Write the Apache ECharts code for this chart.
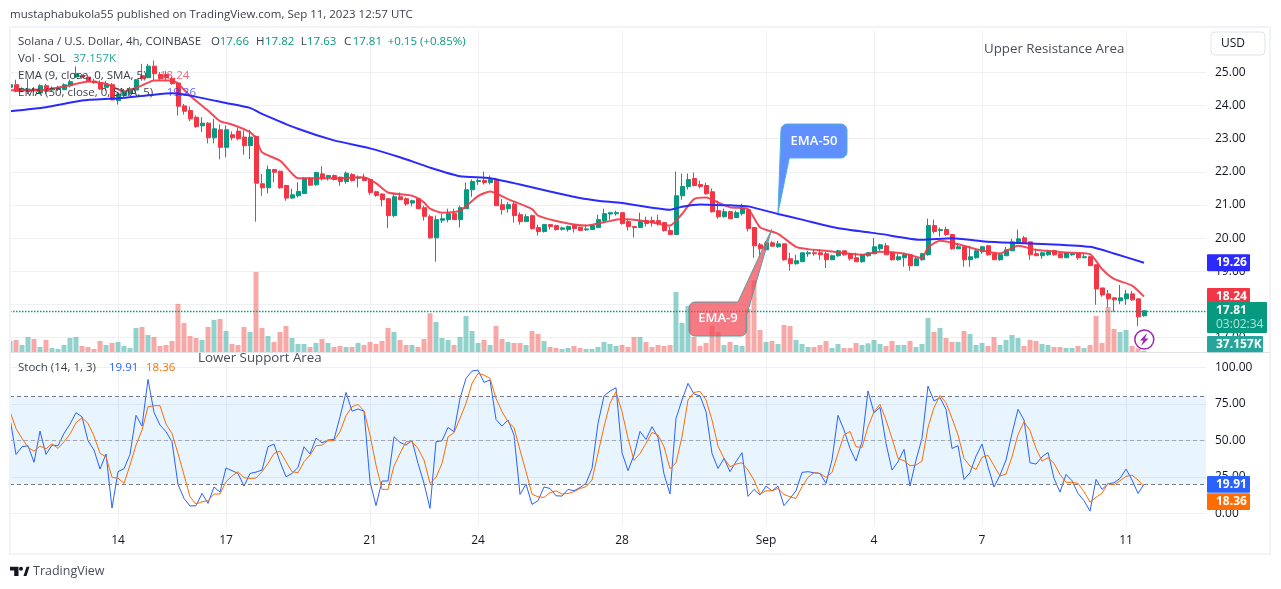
<!DOCTYPE html>
<html>
<head>
<meta charset="utf-8">
<title>SOLUSD</title>
<style>
  html, body { margin: 0; padding: 0; background: #fff; }
  #chart { width: 1281px; height: 589px; }
</style>
<script src="https://cdn.jsdelivr.net/npm/echarts@6/dist/echarts.min.js"></script>
</head>
<body>
<div id="chart"></div>
<script>
// candles are 4h, one row = 10 candles
var opens = [
  24.55,24.63,24.45,24.43,24.50,24.38,24.60,24.47,24.49,24.48,
  24.60,24.86,24.91,24.86,24.74,24.68,24.55,24.63,24.15,24.30,
  24.37,24.47,24.90,24.84,25.19,24.94,24.94,24.81,24.68,23.99,
  23.85,23.65,23.39,23.47,23.03,23.27,22.74,23.12,23.23,23.05,
  22.79,23.07,21.64,21.52,22.07,22.02,21.59,21.21,21.28,21.35,
  21.81,21.61,21.94,21.84,21.89,21.84,21.71,21.92,21.81,21.82,
  21.77,21.40,21.33,21.19,20.68,21.25,21.19,21.06,21.19,20.92,
  20.65,20.01,20.54,20.56,20.74,20.56,20.89,21.46,21.71,21.74,
  21.68,21.77,21.01,20.89,21.03,20.71,20.50,20.68,20.32,20.20,
  20.41,20.38,20.27,20.26,20.38,20.33,20.25,20.26,20.32,20.53,
  20.73,20.74,20.77,20.50,20.35,20.32,20.53,20.53,20.53,20.47,
  20.23,20.11,21.28,21.56,21.80,21.62,21.59,21.40,20.83,20.65,
  20.80,20.62,20.74,20.86,20.32,19.80,19.65,19.86,19.74,19.83,
  19.38,19.23,19.29,19.53,19.56,19.56,19.53,19.35,19.47,19.62,
  19.53,19.41,19.29,19.47,19.53,19.68,19.77,19.56,19.35,19.41,
  19.50,19.17,19.35,19.50,20.38,20.23,20.26,20.11,19.68,19.74,
  19.35,19.41,19.59,19.77,19.53,19.35,19.47,19.62,19.86,20.01,
  19.89,19.53,19.47,19.50,19.62,19.53,19.41,19.50,19.53,19.41,
  19.44,19.20,18.50,18.32,18.20,18.11,18.17,18.32,18.17,17.66
];
var closes = [
  24.63,24.43,24.50,24.50,24.45,24.60,24.43,24.53,24.55,24.63,
  24.72,24.96,24.86,24.74,24.70,24.50,24.65,24.17,24.35,24.42,
  24.50,24.78,24.81,25.19,24.96,24.81,24.84,24.66,23.98,23.83,
  23.60,23.37,23.47,23.03,23.30,22.74,23.27,23.03,23.00,22.79,
  23.05,21.66,21.52,22.07,21.99,21.52,21.21,21.31,21.41,21.81,
  21.60,21.98,21.81,21.89,21.77,21.71,21.96,21.74,21.84,21.74,
  21.38,21.29,21.16,20.68,21.25,21.16,21.03,21.13,20.89,20.66,
  20.01,20.56,20.59,20.74,20.56,20.92,21.46,21.71,21.74,21.68,
  21.77,20.98,20.86,21.01,20.68,20.50,20.65,20.29,20.20,20.41,
  20.35,20.26,20.31,20.35,20.29,20.23,20.28,20.38,20.56,20.74,
  20.77,20.77,20.44,20.35,20.32,20.50,20.44,20.47,20.44,20.23,
  20.11,21.28,21.56,21.77,21.59,21.56,21.34,20.80,20.65,20.80,
  20.59,20.77,20.89,20.29,19.77,19.68,19.86,19.76,19.83,19.35,
  19.23,19.32,19.56,19.56,19.53,19.50,19.35,19.47,19.62,19.50,
  19.38,19.29,19.50,19.56,19.74,19.80,19.50,19.35,19.44,19.50,
  19.17,19.38,19.53,20.38,20.20,20.26,20.11,19.68,19.74,19.35,
  19.44,19.62,19.74,19.50,19.35,19.50,19.65,19.89,19.98,19.86,
  19.50,19.47,19.56,19.59,19.50,19.41,19.56,19.53,19.41,19.44,
  19.17,18.47,18.29,18.17,18.14,18.20,18.32,18.14,17.63,17.81
];
var lows = [
  24.50,24.40,24.40,24.35,24.40,24.35,24.35,24.42,24.44,24.47,
  24.55,24.84,24.81,24.71,24.65,24.47,24.45,24.17,24.03,24.25,
  24.30,24.40,24.75,24.84,24.76,24.74,24.74,24.63,23.70,23.73,
  23.53,23.33,23.20,22.86,22.86,22.38,22.44,22.95,22.95,22.52,
  22.39,20.50,21.28,21.35,21.69,21.49,21.13,21.18,21.23,21.33,
  21.57,21.58,21.74,21.74,21.74,21.58,21.64,21.71,21.53,21.72,
  21.31,21.25,20.96,20.30,20.63,21.15,20.98,20.96,20.88,20.53,
  19.98,19.29,20.46,20.48,20.55,20.32,20.89,21.25,21.61,21.62,
  21.62,20.98,20.71,20.77,20.47,20.41,20.50,20.26,20.08,20.17,
  20.26,20.23,20.23,20.20,20.17,20.23,20.23,20.26,20.32,20.47,
  20.56,20.68,20.41,20.23,20.02,20.32,20.35,20.35,20.38,20.20,
  20.11,20.11,21.16,21.47,21.56,21.50,21.31,20.77,20.59,20.62,
  20.59,20.62,20.68,20.20,19.41,19.44,19.62,19.74,19.71,19.32,
  19.02,19.20,19.29,19.44,19.47,19.35,19.10,19.35,19.44,19.47,
  19.32,19.29,19.26,19.44,19.53,19.62,19.50,19.32,19.32,19.14,
  19.02,19.17,19.32,19.47,20.14,20.05,20.07,19.65,19.68,19.14,
  19.14,19.38,19.53,19.47,19.35,19.32,19.47,19.62,19.86,19.83,
  19.35,19.47,19.38,19.47,19.47,19.41,19.41,19.47,19.35,19.41,
  19.17,17.99,18.23,17.91,17.78,18.01,17.99,18.11,17.35,17.63
];
var highs = [
  24.76,24.78,24.55,24.81,24.56,24.64,24.65,24.58,24.60,24.67,
  24.78,25.18,24.96,24.91,24.81,24.76,24.74,24.68,24.40,24.50,
  24.56,24.80,25.26,25.26,25.36,25.01,25.04,24.88,24.72,24.05,
  23.97,23.70,23.65,23.50,23.60,23.43,23.40,23.22,23.33,23.25,
  23.27,23.10,21.94,22.19,22.09,22.04,21.61,21.49,21.69,21.84,
  21.84,22.00,22.17,21.91,21.92,21.86,22.01,21.96,21.89,21.94,
  21.79,21.43,21.36,21.21,21.36,21.38,21.23,21.16,21.21,20.98,
  20.71,20.68,20.73,20.89,20.89,20.98,21.68,21.77,21.80,22.01,
  21.89,21.82,21.18,21.09,21.09,20.78,20.73,20.71,20.41,20.41,
  20.41,20.41,20.35,20.38,20.41,20.35,20.41,20.41,20.71,20.89,
  20.77,20.83,20.77,20.56,20.35,20.77,20.65,20.65,20.71,20.47,
  20.35,22.01,21.95,21.95,21.98,21.74,21.68,21.50,21.13,20.89,
  20.83,20.83,21.04,20.89,20.32,19.86,19.92,19.92,19.92,19.83,
  19.56,19.50,19.56,19.62,19.65,19.67,19.59,19.50,19.65,19.62,
  19.56,19.56,19.53,19.59,20.01,19.83,19.86,19.56,19.53,19.53,
  19.53,19.44,19.56,20.59,20.56,20.32,20.35,20.13,19.86,19.74,
  19.77,19.68,19.77,19.80,19.53,19.56,19.74,19.98,20.26,20.07,
  19.89,19.68,19.59,19.65,19.65,19.56,19.56,19.56,19.56,19.53,
  19.47,19.20,18.50,18.44,18.23,18.59,18.44,18.41,18.17,17.82
];
// volume in thousands of SOL
var volumes = [
  272,296,176,368,320,128,296,104,80,176,
  344,368,152,128,80,272,176,224,248,152,
  104,584,608,416,368,152,176,272,1160,704,
  392,344,296,608,776,800,512,200,176,608,
  488,1928,584,392,248,488,632,344,200,200,
  128,224,320,224,128,152,128,128,224,176,
  248,200,272,584,488,296,176,176,128,320,
  936,728,344,296,176,368,872,512,224,296,
  176,632,320,248,224,224,176,512,440,272,
  128,104,80,104,152,104,80,80,128,248,
  200,152,176,128,368,368,248,128,176,152,
  176,1448,704,1112,368,152,224,632,488,176,
  248,176,152,1040,1728,536,248,272,200,656,
  632,296,200,128,128,176,272,104,200,104,
  104,224,176,216,296,200,152,272,176,176,
  272,128,200,824,488,584,344,248,248,512,
  440,176,224,152,368,176,296,416,344,152,
  296,272,200,176,128,128,104,104,152,104,
  176,872,224,1088,560,488,536,152,96,37.157
];
var ema9Index = [0,6,10,13,16,19,22,24,27,28,30,33,35,37,40,41,42,45,47,48,54,59,61,63,67,69,70,72,75,78,80,83,87,88,92,96,99,102,106,110,112,114,116,118,120,123,125,128,131,133,136,142,145,149,152,153,155,158,161,165,168,171,176,180,182,184,187,189];
var ema9 = [24.46,24.48,24.61,24.73,24.66,24.43,24.61,24.76,24.76,24.66,24.30,23.85,23.53,23.43,23.20,23.00,22.59,22.34,21.95,21.81,21.81,21.84,21.66,21.38,21.28,21.08,20.89,20.77,20.83,21.27,21.41,21.18,20.88,20.68,20.48,20.38,20.48,20.58,20.51,20.38,20.73,21.18,21.23,21.08,20.93,20.88,20.33,20.13,19.74,19.67,19.62,19.50,19.59,19.54,19.40,19.72,19.92,19.82,19.67,19.54,19.77,19.65,19.57,19.52,19.07,18.77,18.57,18.24];
var ema50Index = [0,6,12,18,24,27,30,36,40,42,48,54,60,65,70,75,80,85,90,95,98,102,110,112,115,120,123,128,132,137,142,145,152,157,162,167,173,180,184,189];
var ema50 = [23.83,23.95,24.15,24.22,24.33,24.37,24.30,24.08,23.93,23.75,23.30,22.95,22.71,22.44,22.13,21.87,21.81,21.62,21.41,21.21,21.13,21.06,20.86,20.95,21.02,20.99,20.96,20.73,20.56,20.34,20.20,20.13,19.95,20.00,19.91,19.86,19.82,19.74,19.54,19.26];
var stochK = [
  65,40.3,45.6,46.3,34.9,56.3,40.3,46.7,46.3,54.7,
  61.1,68.9,66.1,49.7,43.3,30.3,40.6,3.6,28.5,30.5,
  40.3,67.1,59.7,91.7,69.1,60.4,55.9,49,19.8,10.2,
  5,5.2,13.6,6.8,18,14.5,31,29.2,27.3,18.6,
  27.3,28.2,29.6,45.6,47.4,35.3,25,27.3,31.4,45.6,
  40.6,51.5,48.3,50.2,50.6,66.1,82.8,70,71.4,70,
  21.6,5.2,22.1,22.1,52.4,48.6,46.7,49.9,34.2,20.5,
  3.4,49,49.7,58.8,55.9,78.7,92.4,97.4,98.1,89.7,
  91.3,64.3,59.7,63.9,53.6,12.9,20,6.1,8.6,18,
  17,12,11.8,16.4,15.4,17.7,20.5,30.7,61.6,80.3,
  83.7,86,41.5,29.2,39.9,56.1,50.6,59.3,52,26.9,
  13.2,65,77.6,89,81.7,80.5,69.6,41,30.7,37.6,
  28.5,35.3,41.5,11.6,16.4,12.5,18.6,15.4,18.6,5.2,
  10.2,15.4,28,28.5,27.8,27.3,20.5,36.5,67.1,57,
  44.4,35.8,49,83.8,68.9,72.5,47.9,29.6,35.3,43.8,
  18.6,36.5,51.3,87.1,76.9,79.2,71.2,44.4,46.3,23.2,
  27.8,39.2,47.4,31.9,18,26.2,36.5,54.7,71.2,63.9,
  34.6,33.7,38.7,41.7,23.9,14.5,26.6,22.3,13.6,8.6,
  1.5,23.2,16.4,20.2,20.9,23.9,30.3,22.8,13.6,19.91
];
var stochD = [
  69.6,58.1,51.3,45.1,42.6,46,44.2,47.6,44.4,49,
  54.3,62,65.5,61.6,52.9,41,38.7,24.6,24.1,20.5,
  33,46.7,57,73,73.7,73.7,61.1,54.7,41,26.2,
  11.3,6.3,7.9,8.6,13.2,13.2,21.6,25.5,28.5,24.4,
  23.9,24.1,28.5,34.2,41,42.6,35.3,28.5,27.8,35.3,
  39.9,46.3,46.7,49.7,49.7,55.9,66.8,73,74.6,70.2,
  53.6,33,16.4,16.4,32.4,41,49,49,44.4,36.5,
  20.5,24.6,34.2,52.4,55.2,65,75.3,89,95.8,94.7,
  92.4,78.7,69.6,62.7,58.8,43.3,28.5,13.2,11.3,10.9,
  14.1,15.4,13.2,13.6,14.8,17,18.2,22.8,41,59.3,
  75.3,83.3,69.6,51.3,36.2,41,47.9,55.4,53.6,45.6,
  30.5,34.6,52.4,77.6,82.8,83.5,77.6,63.9,46,37.6,
  31.9,33.7,34.6,29.6,22.8,13.2,15.4,15.4,17,12.9,
  11.3,10.2,18.2,24.6,27.8,27.3,24.6,28,41,53.6,
  56.1,45.6,45.1,59.3,69.6,74.6,63.9,51.3,37.6,36,
  32.6,33,35.8,58.8,72.5,80.7,75.7,65,53.6,37.6,
  32.3,30,38.3,39.7,32.6,25.5,26.9,38.7,54,62.7,
  56.6,44.4,35.8,38.1,34.2,26.6,21.2,21.2,20.5,14.8,
  7.7,10.9,13.8,20.5,19.6,22.3,25.3,26.1,22.8,18.36
];
var dayTicks = [18,36,60,78,102,126,144,162,186];
var dayLabels = ['14','17','21','24','28','Sep','4','7','11'];
var priceTicks = [17,18,19,20,21,22,23,24,25];
var stochTicks = [0,25,50,75,100];
var stochLevels = [80,50,20];

var FONT = 'Open Sans';
var GREEN = '#089981', RED = '#f23645', EMA50 = '#2a2aff', KBLUE = '#2962ff', DORANGE = '#ff6d00';
var GRIDCOL = '#eff0f4', TEXTCOL = '#131722', LEGENDCOL = '#3a3e49';

var chart = echarts.init(document.getElementById('chart'), null, {renderer: 'canvas'});

function pairs(xs, ys) {
  return xs.map(function(x, i) { return [x, ys[i]]; });
}

var xMax = 199.33;

var option = {
  animation: false,
  backgroundColor: '#fff',
  textStyle: {fontFamily: FONT},
  grid: [
    {left: 10, width: 1196, top: 30, height: 322.3},
    {left: 10, width: 1196, top: 354, height: 172}
  ],
  xAxis: [{
    type: 'value', gridIndex: 0, min: 0, max: xMax,
    axisLine: {show: false},
    axisTick: {show: false, customValues: dayTicks},
    axisLabel: {show: false},
    splitLine: {show: true, lineStyle: {color: GRIDCOL, width: 1}}
  }, {
    type: 'value', gridIndex: 1, min: 0, max: xMax,
    axisLine: {show: false},
    axisTick: {show: false, customValues: dayTicks},
    axisLabel: {
      show: true, margin: 9, color: TEXTCOL, fontSize: 12, fontFamily: FONT,
      customValues: dayTicks,
      formatter: function(v) { return dayLabels[dayTicks.indexOf(v)]; }
    },
    splitLine: {show: true, lineStyle: {color: GRIDCOL, width: 1}}
  }],
  yAxis: [{
    type: 'value', gridIndex: 0, position: 'right', min: 16.558, max: 26.28, scale: true,
    axisLine: {show: false},
    axisTick: {show: false, customValues: priceTicks},
    axisLabel: {
      margin: 9, color: TEXTCOL, fontSize: 12, fontFamily: FONT,
      customValues: priceTicks,
      formatter: function(v) { return v.toFixed(2); }
    },
    splitLine: {show: true, lineStyle: {color: GRIDCOL, width: 1}}
  }, {
    // volume overlay, scale only
    type: 'value', gridIndex: 0, min: 0, max: 7728, show: false,
    splitLine: {show: false}
  }, {
    type: 'value', gridIndex: 1, position: 'right', min: -8.7, max: 109.1, scale: true,
    axisLine: {show: false},
    axisTick: {show: false, customValues: stochTicks},
    axisLabel: {
      margin: 9, color: TEXTCOL, fontSize: 12, fontFamily: FONT,
      customValues: stochTicks,
      formatter: function(v) { return v.toFixed(2); }
    },
    splitLine: {show: true, lineStyle: {color: GRIDCOL, width: 1}}
  }],
  series: [{
    name: 'Vol',
    type: 'bar',
    xAxisIndex: 0, yAxisIndex: 1,
    barWidth: 5,
    clip: true,
    z: 1,
    silent: true,
    data: volumes.map(function(v, i) {
      return {
        value: [i, v],
        itemStyle: {color: closes[i] >= opens[i] ? 'rgba(38,166,154,0.5)' : 'rgba(239,83,80,0.5)'}
      };
    })
  }, {
    name: 'SOLUSD',
    type: 'candlestick',
    xAxisIndex: 0, yAxisIndex: 0,
    barWidth: 4.5,
    z: 3,
    silent: true,
    itemStyle: {color: GREEN, color0: RED, borderColor: GREEN, borderColor0: RED, borderWidth: 1},
    data: opens.map(function(o, i) { return [i, o, closes[i], lows[i], highs[i]]; }),
    markLine: {
      silent: true, symbol: 'none', animation: false,
      label: {show: false},
      lineStyle: {color: GREEN, type: [1.5, 1.5], width: 1.3},
      data: [{yAxis: closes[closes.length - 1]}]
    }
  }, {
    name: 'EMA 9',
    type: 'line',
    xAxisIndex: 0, yAxisIndex: 0,
    z: 4,
    symbol: 'none',
    smooth: 0.2,
    lineStyle: {color: RED, width: 2, opacity: 0.9},
    data: pairs(ema9Index, ema9)
  }, {
    name: 'EMA 50',
    type: 'line',
    xAxisIndex: 0, yAxisIndex: 0,
    z: 4,
    symbol: 'none',
    smooth: 0.2,
    lineStyle: {color: EMA50, width: 2, opacity: 1},
    data: pairs(ema50Index, ema50)
  }, {
    name: '%K',
    type: 'line',
    xAxisIndex: 1, yAxisIndex: 2,
    z: 4,
    symbol: 'none',
    lineStyle: {color: KBLUE, width: 1},
    data: stochK.map(function(v, i) { return [i, v]; }),
    markArea: {
      silent: true,
      itemStyle: {color: 'rgba(33,150,243,0.1)'},
      data: [[{yAxis: stochLevels[0]}, {yAxis: stochLevels[2]}]]
    },
    markLine: {
      silent: true, symbol: 'none', animation: false,
      label: {show: false},
      lineStyle: {color: '#787b86', type: [4, 3], width: 1},
      data: stochLevels.map(function(v) {
        return v === 50 ? {yAxis: v, lineStyle: {color: '#a3a6af'}} : {yAxis: v};
      })
    }
  }, {
    name: '%D',
    type: 'line',
    xAxisIndex: 1, yAxisIndex: 2,
    z: 5,
    symbol: 'none',
    lineStyle: {color: DORANGE, width: 1},
    data: stochD.map(function(v, i) { return [i, v]; })
  }]
};

chart.setOption(option);

// overlays, drawn once the axes exist
function text(x, y, str, color, size, extra) {
  var st = {x: x, y: y, text: str, fill: color, fontSize: size || 11.5, fontFamily: FONT, textVerticalAlign: 'middle', textAlign: 'left'};
  if (extra) { for (var k in extra) st[k] = extra[k]; }
  return {type: 'text', z: 68, silent: true, style: st};
}
function ohlc(x, y, key, val, keyWidth) {
  return [text(x, y, key, LEGENDCOL), text(x + keyWidth, y, val, GREEN)];
}
function tag(x2, yTop, yBot, color, label, z) {
  return [{
    type: 'rect', z: z || 70, silent: true,
    shape: {x: 1207, y: yTop, width: x2 - 1207, height: yBot - yTop, r: 1},
    style: {fill: color}
  }, {
    type: 'text', z: (z || 70) + 1, silent: true,
    style: {x: 1216, y: (yTop + yBot) / 2, text: label, fill: '#fff', fontSize: 12, fontWeight: 'bold', fontFamily: FONT, textVerticalAlign: 'middle'}
  }];
}
// quarter circle as polygon points, angles in degrees, screen coords
function corner(cx, cy, r, a0) {
  var pts = [];
  for (var a = a0; a <= a0 + 90; a += 18) {
    pts.push([cx + r * Math.cos(a * Math.PI / 180), cy + r * Math.sin(a * Math.PI / 180)]);
  }
  return pts;
}
function py(v) { return chart.convertToPixel({yAxisIndex: 0}, v); }

var g = [];
// first volume bar sticks out left of the pane
g.push({type: 'rect', z: 30, silent: true, shape: {x: 0, y: 28, width: 10, height: 525}, style: {fill: '#fff'}});
// outer frame and pane separator
g.push({type: 'rect', z: 40, silent: true, shape: {x: 10, y: 27, width: 1260, height: 527}, style: {fill: 'none', stroke: '#f0f3fa', lineWidth: 2}});
g.push({type: 'line', z: 40, silent: true, shape: {x1: 10, y1: 352.5, x2: 1270, y2: 352.5}, style: {stroke: '#e0e3eb', lineWidth: 1}});

g.push(text(10, 14.5, 'mustaphabukola55 published on TradingView.com, Sep 11, 2023 12:57 UTC', LEGENDCOL));

g.push(text(18, 42, 'Solana / U.S. Dollar, 4h, COINBASE', LEGENDCOL));
g = g.concat(ohlc(211, 42, 'O', '17.66', 8.7), ohlc(256, 42, 'H', '17.82', 9), ohlc(300.7, 42, 'L', '17.63', 6.3), ohlc(344, 42, 'C', '17.81', 8.7));
g.push(text(387.7, 42, '+0.15 (+0.85%)', GREEN));
g.push(text(18, 59, 'Vol · SOL', LEGENDCOL));
g.push(text(73, 59, '37.157K', '#26a69a'));
g.push(text(18, 76, 'EMA (9, close, 0, SMA, 5)', LEGENDCOL));
g.push(text(160, 76, '18.24', RED, 11.5, {opacity: 0.75}));
g.push(text(18, 93, 'EMA (50, close, 0, SMA, 5)', LEGENDCOL));
g.push(text(166.7, 93, '19.26', EMA50, 11.5, {opacity: 0.75}));
g.push(text(18, 368, 'Stoch (14, 1, 3)', LEGENDCOL));
g.push(text(109, 368, '19.91', KBLUE));
g.push(text(146, 368, '18.36', DORANGE));

g.push(text(984, 49, 'Upper Resistance Area', '#4a4e59', 13.3));
g.push(text(198, 358, 'Lower Support Area', '#4a4e59', 13.3));

// USD box
g.push({type: 'rect', z: 60, silent: true, shape: {x: 1211, y: 32, width: 54, height: 23, r: 4}, style: {fill: '#fff', stroke: '#e0e3eb', lineWidth: 1}});
g.push(text(1221, 43.5, 'USD', TEXTCOL, 12));

// callouts
g.push({
  type: 'polygon', z: 65, silent: true,
  shape: {points: [].concat(corner(787, 130, 6, 180), corner(841, 130, 6, 270), corner(841, 152, 6, 0), [[789.3, 158], [778, 213]])},
  style: {fill: '#6090ff', stroke: '#4fb0d8', lineWidth: 1}
});
g.push(text(814, 141, 'EMA-50', '#fff', 13, {textAlign: 'center', fontWeight: 600}));
g.push({
  type: 'polygon', z: 65, silent: true,
  shape: {points: [].concat(corner(695, 308, 6, 180), [[738, 302], [771.7, 229.3], [746.7, 315]], corner(740.7, 330, 6, 0), corner(695, 330, 6, 90))},
  style: {fill: 'rgba(242,70,85,0.72)', stroke: '#5b9ea0', lineWidth: 1}
});
g.push(text(718, 318.5, 'EMA-9', '#fff', 13, {textAlign: 'center', fontWeight: 600}));

// lightning badge
g.push({type: 'circle', z: 66, silent: true, shape: {cx: 1144.3, cy: 339.5, r: 9.5}, style: {fill: '#fff', stroke: '#9c27b0', lineWidth: 1.5}});
g.push({type: 'polygon', z: 67, silent: true, shape: {points: [[1147,333],[1140,340.5],[1143.5,340.5],[1141,346],[1148.5,338.5],[1145,338.5]]}, style: {fill: '#9c27b0'}});

// price scale tags
g = g.concat(
  tag(1250, py(19.26) - 8.5, py(19.26) + 8.5, EMA50, '19.26'),
  tag(1250, py(18.24) - 8.5, py(18.24) + 8.5, RED, '18.24'),
  tag(1267, 302, 333, GREEN, '', 72),
  tag(1263, 336, 352.3, '#26a69a', '37.157K'),
  tag(1250, 476, 492.7, KBLUE, '19.91'),
  tag(1250, 493.3, 510, DORANGE, '18.36')
);
g.push({type: 'text', z: 74, silent: true, style: {x: 1216, y: 310.5, text: '17.81', fill: '#fff', fontSize: 12, fontWeight: 'bold', fontFamily: FONT, textVerticalAlign: 'middle'}});
g.push({type: 'text', z: 74, silent: true, style: {x: 1216, y: 325, text: '03:02:34', fill: 'rgba(255,255,255,0.7)', fontSize: 12, fontFamily: FONT, textVerticalAlign: 'middle'}});

// footer logo
g.push({type: 'polygon', z: 60, silent: true, shape: {points: [[10,566.7],[18.5,566.7],[18.5,576],[14.2,576],[14.2,570.5],[10,570.5]]}, style: {fill: '#131722'}});
g.push({type: 'circle', z: 60, silent: true, shape: {cx: 21, cy: 568.7, r: 2}, style: {fill: '#131722'}});
g.push({type: 'polygon', z: 60, silent: true, shape: {points: [[23.5,576],[26.5,566.7],[29.5,566.7],[26.5,576]]}, style: {fill: '#131722'}});
g.push(text(33, 571.5, 'TradingView', '#4a4e59', 12.5));

chart.setOption({graphic: {elements: g}});
</script>
</body>
</html>
